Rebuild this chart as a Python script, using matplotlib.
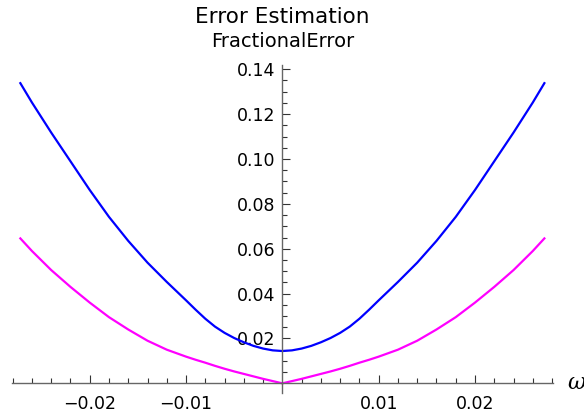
import matplotlib
matplotlib.use("Agg")
import matplotlib.pyplot as plt
import numpy as np

# values (the curves are symmetric in omega)
omega = [-0.0272, -0.026, -0.024, -0.022, -0.020, -0.018, -0.016, -0.014, -0.012,
         -0.010, -0.009, -0.008, -0.007, -0.006, -0.005, -0.004, -0.003, -0.002,
         -0.001, 0.0,
         0.001, 0.002, 0.003, 0.004, 0.005, 0.006, 0.007, 0.008, 0.009,
         0.010, 0.012, 0.014, 0.016, 0.018, 0.020, 0.022, 0.024, 0.026, 0.0272]
err_blue = [0.1338, 0.1252, 0.1118, 0.0990, 0.0862, 0.0742, 0.0635, 0.0538, 0.0452,
            0.0370, 0.0328, 0.0288, 0.0253, 0.0225, 0.0202, 0.0183, 0.0167, 0.0155,
            0.0147, 0.0144,
            0.0147, 0.0155, 0.0167, 0.0183, 0.0202, 0.0225, 0.0253, 0.0288, 0.0328,
            0.0370, 0.0452, 0.0538, 0.0635, 0.0742, 0.0862, 0.0990, 0.1118, 0.1252, 0.1338]
err_magenta = [0.0646, 0.0590, 0.0505, 0.0430, 0.0360, 0.0295, 0.0240, 0.0190, 0.0150,
               0.0119, 0.0105, 0.0092, 0.0078, 0.0065, 0.0053, 0.0042, 0.0031, 0.0020,
               0.0010, 0.0,
               0.0010, 0.0020, 0.0031, 0.0042, 0.0053, 0.0065, 0.0078, 0.0092, 0.0105,
               0.0119, 0.0150, 0.0190, 0.0240, 0.0295, 0.0360, 0.0430, 0.0505, 0.0590, 0.0646]

x_ticks = [-0.02, -0.01, 0.01, 0.02]
x_labels = ["\u22120.02", "\u22120.01", "0.01", "0.02"]
y_ticks = [0.02, 0.04, 0.06, 0.08, 0.10, 0.12, 0.14]
y_labels = ["0.02", "0.04", "0.06", "0.08", "0.10", "0.12", "0.14"]

plt.rcParams['font.family'] = ['DejaVu Sans']

fig = plt.figure(figsize=(5.84, 4.17), dpi=100)
ax = fig.add_axes([0.020, 0.0576, 0.927, 0.786])

ax.plot(omega, err_blue, color=(0, 0, 1), lw=1.6, solid_joinstyle='round')
ax.plot(omega, err_magenta, color=(1, 0, 1), lw=1.6, solid_joinstyle='round')

ax.set_xlim(-0.0281, 0.0281)
ax.set_ylim(-0.0043, 0.1418)

axis_col = '#666666'
for s in ['top', 'right']:
    ax.spines[s].set_visible(False)
ax.spines['left'].set_position(('data', 0))
ax.spines['bottom'].set_position(('data', 0))
for s in ['left', 'bottom']:
    ax.spines[s].set_color(axis_col)
    ax.spines[s].set_linewidth(1.0)

ax.set_xticks(x_ticks)
ax.set_xticklabels(x_labels)
ax.set_yticks(y_ticks)
ax.set_yticklabels(y_labels)
ax.set_xticks([t for t in np.arange(-0.028, 0.0281, 0.002) if abs(t) > 1e-9], minor=True)
ax.set_yticks(np.arange(0.005, 0.1415, 0.005), minor=True)

ax.tick_params(which='both', direction='in', color='#333333', width=0.8,
               labelsize=12.5, labelcolor='black')
ax.tick_params(which='major', length=6)
ax.tick_params(which='minor', length=3.5)
ax.tick_params(axis='x', which='major', pad=8.5)
ax.tick_params(axis='y', which='major', pad=5)

fig.text(0.4837, 0.944, "Error Estimation", ha='center', va='baseline', fontsize=15.5)
fig.text(0.4837, 0.8866, "FractionalError", ha='center', va='baseline', fontsize=14)
fig.text(0.972, 0.082, "\u03c9", ha='left', va='center', fontsize=16,
         style='italic', family='DejaVu Serif')

fig.savefig("out.png", dpi=100)
